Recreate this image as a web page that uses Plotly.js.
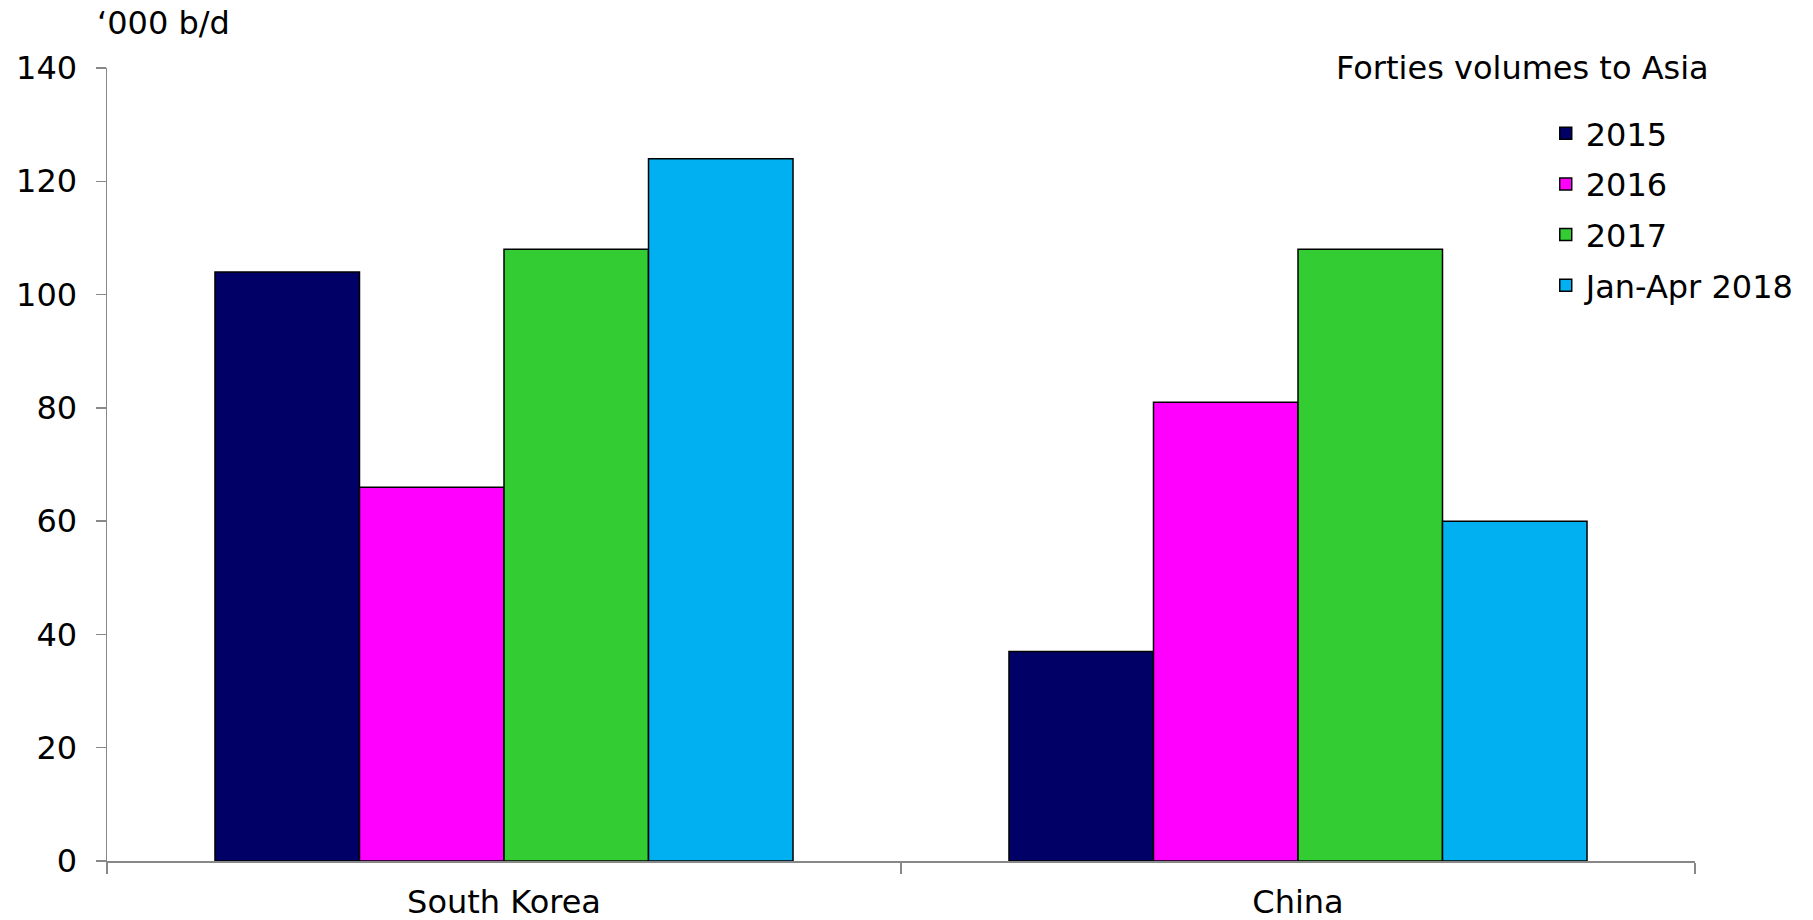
<!DOCTYPE html>
<html>
<head>
<meta charset="utf-8">
<script src="https://cdn.plot.ly/plotly-3.0.1.min.js"></script>
<style>html,body{margin:0;padding:0;background:#fff;}#chart{width:1813px;height:920px;}</style>
</head>
<body>
<div id="chart"></div>
<script>
const categories = ["South Korea", "China"];
const seriesNames = ["2015", "2016", "2017", "Jan-Apr 2018"];
const values2015 = [104, 37];
const values2016 = [66, 81];
const values2017 = [108, 108];
const valuesJanApr2018 = [124, 60];
const yTicks = [0, 20, 40, 60, 80, 100, 120, 140];
const unitLabel = "\u2018000 b/d";
const legendTitle = "Forties volumes to Asia";

const colors = ["#000066", "#FF00FF", "#33CC33", "#00B0F0"];
const allValues = [values2015, values2016, values2017, valuesJanApr2018];
const FONT = "Verdana, 'DejaVu Sans', sans-serif";
const FS = 32;

const traces = allValues.map((v, i) => ({
  type: "bar",
  name: seriesNames[i],
  legendgroup: "g" + i,
  x: categories,
  y: v,
  marker: {color: colors[i], line: {color: "#000000", width: 1.5}},
  hoverinfo: "x+y+name"
}));

const layout = {
  width: 1813,
  height: 920,
  paper_bgcolor: "#ffffff",
  plot_bgcolor: "#ffffff",
  font: {family: FONT, size: FS, color: "#000000"},
  margin: {l: 107, r: 114, t: 68, b: 59, pad: 0},
  barmode: "group",
  bargap: 0.272,
  bargroupgap: 0,
  showlegend: true,
  legend: {
    x: 0.906, xanchor: "left",
    y: 0.952, yanchor: "top",
    bgcolor: "rgba(0,0,0,0)",
    font: {family: FONT, size: FS, color: "#000000"},
    traceorder: "grouped",
    tracegroupgap: 6,
    itemclick: false
  },
  xaxis: {
    type: "category",
    showline: true,
    linecolor: "#888888",
    linewidth: 1.5,
    ticks: "outside",
    tickson: "boundaries",
    ticklen: 11,
    tickcolor: "#888888",
    tickwidth: 1.5,
    showgrid: false,
    zeroline: false,
    tickfont: {family: FONT, size: FS, color: "#000000"},
    ticklabelstandoff: 12
  },
  yaxis: {
    range: [0, 140],
    tickvals: yTicks,
    ticktext: yTicks.map(String),
    showline: true,
    linecolor: "#888888",
    linewidth: 1.5,
    ticks: "outside",
    ticklen: 10,
    tickcolor: "#888888",
    tickwidth: 1.5,
    showgrid: false,
    zeroline: false,
    tickfont: {family: FONT, size: FS, color: "#000000"},
    ticklabelstandoff: 12
  },
  annotations: [
    {
      text: unitLabel, xref: "paper", yref: "paper",
      x: -0.0075, y: 1.0, xanchor: "left", yanchor: "bottom", yshift: 24,
      showarrow: false, font: {family: FONT, size: FS, color: "#000000"}
    },
    {
      text: legendTitle, xref: "paper", yref: "paper",
      x: 1.01, y: 1.0, xanchor: "right", yanchor: "middle",
      showarrow: false, font: {family: FONT, size: FS, color: "#000000"}
    }
  ]
};

Plotly.newPlot("chart", traces, layout, {displayModeBar: false, staticPlot: true});
</script>
</body>
</html>
